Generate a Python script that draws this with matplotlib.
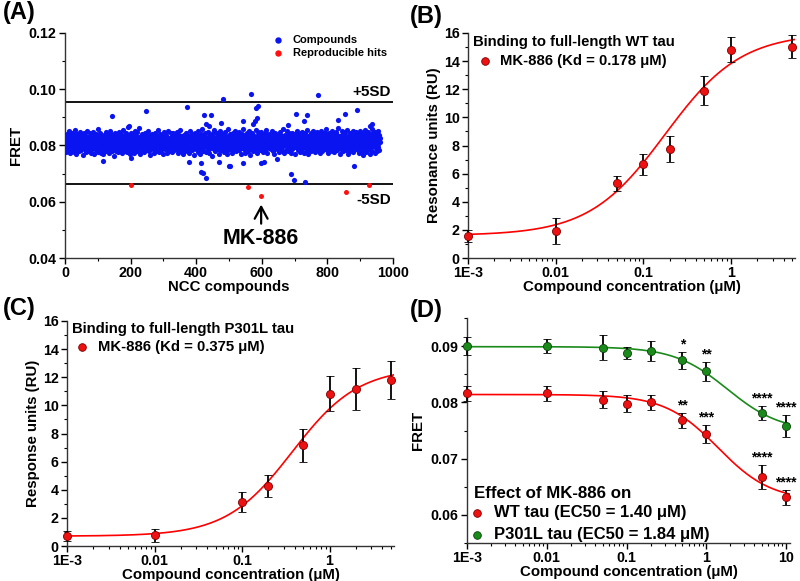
import numpy as np
import matplotlib
matplotlib.use("Agg")
import matplotlib.pyplot as plt
from matplotlib.ticker import FixedLocator, FixedFormatter, MultipleLocator

plt.rcParams['font.family'] = ['Liberation Sans', 'DejaVu Sans']
plt.rcParams['font.weight'] = 'bold'
plt.rcParams['axes.labelweight'] = 'bold'

# ---------------- (A) screening data ----------------
# FRET x 1e4 for compounds 1..960 (bulk of the screen)
bulk_fret = [
    812, 795, 831, 778, 806, 842, 799, 817, 784, 826, 803, 851, 790, 809, 772, 835, 814, 797, 822, 781, 808, 846, 793, 819,
    801, 836, 776, 813, 829, 788, 805, 855, 796, 818, 770, 823, 807, 840, 785, 811, 798, 833, 779, 816, 802, 848, 791, 824,
    809, 783, 838, 800, 815, 766, 827, 804, 792, 844, 810, 787, 821, 799, 834, 776, 813, 806, 852, 795, 818, 780, 830, 803,
    789, 825, 811, 843, 797, 774, 816, 805, 837, 786, 820, 808, 794, 849, 802, 828, 771, 812, 799, 835, 783, 817, 806, 841,
    793, 814, 830, 778, 807, 857, 800, 822, 788, 811, 845, 796, 819, 775, 832, 804, 790, 826, 809, 768, 815, 801, 839, 784,
    821, 806, 796, 847, 812, 781, 829, 803, 816, 792, 836, 808, 773, 824, 799, 853, 810, 787, 818, 805, 842, 794, 827, 779,
    804, 833, 819, 790, 811, 764, 826, 801, 845, 797, 814, 782, 838, 807, 793, 822, 815, 776, 831, 800, 849, 789, 812, 825,
    798, 841, 785, 817, 806, 829, 772, 813, 802, 856, 794, 820, 809, 780, 834, 803, 818, 791, 846, 807, 777, 823, 811, 796,
    816, 787, 832, 804, 769, 821, 810, 843, 799, 826, 783, 812, 805, 839, 792, 817, 774, 828, 801, 851, 808, 786, 819, 835,
    802, 824, 779, 813, 848, 795, 810, 831, 788, 806, 861, 797, 820, 771, 834, 809, 800, 842, 784, 815, 826, 793, 807, 838,
    811, 776, 827, 803, 844, 790, 818, 805, 834, 785, 813, 799, 850, 808, 781, 823, 796, 837, 812, 767, 829, 804, 816, 792,
    840, 801, 819, 787, 830, 810, 775, 825, 798, 845, 806, 814, 782, 836, 803, 821, 794, 808, 854, 789, 817, 800, 832, 778,
    813, 797, 841, 806, 822, 784, 809, 835, 792, 818, 770, 827, 804, 848, 799, 815, 786, 831, 810, 795, 839, 807, 773, 824,
    800, 853, 789, 816, 805, 828, 780, 812, 796, 843, 809, 821, 777, 833, 802, 818, 791, 846, 807, 784, 824, 798, 837, 811,
    786, 820, 808, 847, 794, 813, 830, 772, 817, 803, 839, 790, 826, 811, 799, 855, 805, 781, 822, 814, 795, 834, 808, 769,
    823, 806, 791, 838, 812, 779, 829, 801, 816, 845, 797, 810, 785, 832, 804, 819, 773, 827, 809, 850, 793, 815, 802, 836,
    798, 824, 812, 783, 840, 806, 817, 792, 831, 765, 821, 803, 846, 788, 814, 809, 835, 796, 826, 778, 811, 852, 800, 819,
    787, 833, 805, 815, 771, 842, 810, 797, 828, 804, 858, 791, 818, 782, 836, 808, 823, 799, 812, 844, 776, 829, 806, 794,
    821, 803, 849, 785, 813, 830, 807, 774, 839, 800, 817, 792, 827, 811, 763, 834, 805, 845, 796, 820, 789, 814, 856, 802,
    816, 781, 831, 808, 797, 843, 812, 825, 786, 809, 837, 799, 819, 770, 828, 804, 851, 793, 813, 840, 784, 822, 807, 833,
    795, 818, 838, 803, 777, 826, 811, 847, 790, 815, 806, 832, 768, 821, 800, 857, 809, 785, 829, 814, 796, 841, 803, 823,
    812, 789, 835, 806, 820, 773, 844, 799, 817, 828, 784, 810, 853, 795, 824, 807, 838, 780, 816, 801, 846, 792, 830, 809,
    783, 827, 814, 848, 797, 808, 836, 771, 819, 804, 841, 790, 825, 812, 799, 860, 806, 786, 831, 815, 775, 837, 801, 821,
    808, 843, 793, 818, 830, 782, 811, 852, 798, 823, 806, 767, 834, 813, 789, 827, 804, 845, 796, 817, 838, 779, 820, 810,
    802, 787, 829, 816, 854, 794, 809, 835, 774, 822, 805, 847, 791, 814, 826, 800, 840, 783, 818, 811, 832, 797, 849, 806,
    825, 799, 813, 778, 839, 807, 820, 792, 844, 810, 785, 828, 803, 856, 796, 816, 772, 833, 808, 821, 790, 842, 813, 800,
    817, 834, 788, 811, 799, 850, 805, 826, 781, 819, 838, 794, 812, 770, 829, 806, 845, 798, 823, 809, 786, 836, 815, 803,
    792, 821, 842, 807, 776, 831, 814, 800, 847, 789, 818, 806, 835, 782, 824, 811, 859, 797, 813, 828, 775, 839, 804, 816,
    809, 785, 827, 812, 851, 798, 820, 834, 780, 815, 803, 843, 791, 826, 807, 772, 832, 814, 800, 846, 787, 822, 810, 837,
    801, 818, 793, 840, 808, 769, 828, 812, 796, 853, 804, 821, 783, 835, 809, 817, 790, 844, 806, 824, 777, 831, 815, 799,
    823, 806, 848, 788, 814, 830, 801, 775, 839, 811, 797, 826, 845, 792, 819, 808, 856, 784, 813, 833, 802, 770, 828, 816,
    795, 837, 810, 822, 781, 846, 804, 817, 790, 831, 812, 799, 852, 786, 825, 807, 840, 778, 818, 803, 834, 794, 849, 811,
    829, 784, 815, 803, 842, 797, 820, 836, 772, 813, 808, 851, 791, 827, 816, 779, 838, 805, 823, 798, 845, 810, 787, 832,
    806, 819, 857, 793, 811, 828, 785, 840, 802, 817, 774, 834, 809, 846, 796, 822, 814, 789, 831, 805, 853, 781, 826, 812,
    798, 843, 807, 821, 776, 836, 813, 792, 848, 804, 825, 810, 783, 839, 801, 818, 862, 795, 829, 808, 771, 833, 815, 800,
    824, 788, 837, 812, 850, 799, 816, 830, 779, 841, 806, 822, 794, 847, 810, 785, 834, 803, 819, 855, 791, 827, 813, 768,
    809, 832, 797, 844, 815, 782, 828, 805, 838, 790, 820, 811, 853, 776, 826, 802, 841, 817, 796, 833, 807, 787, 849, 814,
    800, 823, 846, 784, 818, 809, 835, 773, 829, 812, 851, 795, 821, 804, 839, 781, 816, 844, 799, 825, 810, 766, 836, 803,
    817, 791, 830, 854, 806, 822, 778, 842, 813, 797, 834, 808, 848, 786, 826, 815, 770, 840, 801, 831, 819, 793, 857, 807,
    782, 828, 811, 845, 798, 837, 816, 775, 849, 804, 823, 790, 843, 812, 779, 832, 806, 852, 796, 821, 838, 785, 827, 813,
]

# compounds that fall outside the main band (index, FRET)
outlier_idx = [483, 144, 247, 371, 424, 446, 430, 438, 477, 193, 196, 379, 416, 414, 422, 430,
               470, 500, 115, 200, 567, 772, 581, 587, 584, 580, 574, 544, 704, 728, 739, 854,
               889, 833, 681, 503, 542, 598, 608, 645, 689, 698, 732, 882, 935, 930]
outlier_fret = [0.0965, 0.0906, 0.0923, 0.0937, 0.0908, 0.0908, 0.0875, 0.0870, 0.0880, 0.0867,
                0.0869, 0.0741, 0.0739, 0.0705, 0.0701, 0.0683, 0.0741, 0.0727, 0.0745, 0.0757,
                0.0982, 0.0980, 0.0934, 0.0941, 0.0897, 0.0887, 0.0878, 0.0887, 0.0913, 0.0888,
                0.0908, 0.0911, 0.0927, 0.0892, 0.0873, 0.0726, 0.0737, 0.0739, 0.0741, 0.0752,
                0.0698, 0.0676, 0.0670, 0.0727, 0.0875, 0.0870]

hit_idx = [201, 559, 598, 857, 927]
hit_fret = [0.0658, 0.0654, 0.0622, 0.0635, 0.0658]

plus_5sd = 0.0955
minus_5sd = 0.0664

# ---------------- (B) SPR WT tau ----------------
conc_b = [0.001, 0.01, 0.05, 0.1, 0.2, 0.5, 1, 5]
ru_b = [1.57, 1.90, 5.30, 6.65, 7.74, 11.90, 14.82, 15.03]
err_b = [0.40, 0.93, 0.55, 0.75, 0.93, 1.03, 0.90, 0.83]
fit_b = dict(bottom=1.6, top=16.0, k=0.178, n=1.0)

# ---------------- (C) SPR P301L tau ----------------
conc_c = [0.001, 0.01, 0.1, 0.2, 0.5, 1, 2, 5]
ru_c = [0.73, 0.78, 3.12, 4.26, 7.15, 10.84, 11.17, 11.79]
err_c = [0.36, 0.46, 0.72, 0.80, 1.15, 1.25, 1.50, 1.37]
fit_c = dict(bottom=0.7, top=12.7, k=0.375, n=1.15)

# ---------------- (D) FRET dose response ----------------
conc_d = [0.001, 0.01, 0.05, 0.1, 0.2, 0.5, 1, 5, 10]
fret_wt = [0.0816, 0.0816, 0.0805, 0.0798, 0.0800, 0.0768, 0.0744, 0.0667, 0.0631]
err_wt = [0.0014, 0.0013, 0.0015, 0.0015, 0.0014, 0.0013, 0.0016, 0.0021, 0.0013]
fret_p301l = [0.0901, 0.0900, 0.0897, 0.0888, 0.0891, 0.0875, 0.0855, 0.0781, 0.0758]
err_p301l = [0.0016, 0.0012, 0.0022, 0.0011, 0.0018, 0.0015, 0.0017, 0.0013, 0.0020]
stars_wt = ['', '', '', '', '', '**', '***', '****', '****']
stars_p301l = ['', '', '', '', '', '*', '**', '****', '****']
fit_wt = dict(top=0.0814, bottom=0.0625, ec50=1.40, n=1.3)
fit_p301l = dict(top=0.0899, bottom=0.0748, ec50=1.84, n=1.3)


def hill_up(x, bottom, top, k, n):
    return bottom + (top - bottom) / (1 + (k / x) ** n)


def hill_down(x, top, bottom, ec50, n):
    return bottom + (top - bottom) / (1 + (x / ec50) ** n)


def style_axis(ax):
    for s in ['top', 'right']:
        ax.spines[s].set_visible(False)
    for s in ['left', 'bottom']:
        ax.spines[s].set_linewidth(1.0)
        ax.spines[s].set_color('#333333')
    ax.tick_params(which='major', direction='out', length=4, width=1, labelsize=10.3, pad=2)
    ax.tick_params(which='minor', direction='out', length=2.2, width=0.8)


def log_axis(ax, xmax, labels):
    ax.set_xscale('log')
    ax.set_xlim(1e-3, xmax)
    ticks = [10.0 ** p for p in range(-3, 3) if 10.0 ** p <= xmax]
    ax.xaxis.set_major_locator(FixedLocator(ticks))
    ax.xaxis.set_major_formatter(FixedFormatter(labels[:len(ticks)]))
    minors = [m * 10.0 ** p for p in range(-3, 2) for m in range(2, 10) if m * 10.0 ** p <= xmax]
    ax.xaxis.set_minor_locator(FixedLocator(minors))
    ax.xaxis.set_minor_formatter(FixedFormatter([''] * len(minors)))


def key_marker(ax, x, y, color, edge, text, tx, size):
    ax.plot([x], [y], 'o', ms=5.5, mfc=color, mec=edge, mew=0.6,
            transform=ax.transAxes, clip_on=False)
    ax.text(tx, y, text, transform=ax.transAxes, va='center', ha='left', fontsize=size)


log_labels = ['1E-3', '0.01', '0.1', '1', '10', '100']
W, H = 800, 581
fig = plt.figure(figsize=(8, 5.81), dpi=100)


def add_axes(l, t, r, b):
    return fig.add_axes([l / W, 1 - b / H, (r - l) / W, (b - t) / H])


# ---------- panel A ----------
axA = add_axes(65, 33, 393, 258)
style_axis(axA)
xs = np.arange(1, len(bulk_fret) + 1)
axA.scatter(xs, np.array(bulk_fret) / 1e4, s=14, c='#0a14f0', linewidths=0, zorder=3)
axA.scatter(outlier_idx, outlier_fret, s=14, c='#0a14f0', linewidths=0, zorder=3)
axA.scatter(hit_idx, hit_fret, s=13, c='#ff1010', linewidths=0, zorder=3)
axA.axhline(plus_5sd, color='black', lw=1.3, zorder=2)
axA.axhline(minus_5sd, color='black', lw=1.3, zorder=2)
axA.text(995, plus_5sd + 0.0012, '+5SD', ha='right', va='bottom', fontsize=11)
axA.text(995, 0.0606, '-5SD', ha='right', va='center', fontsize=11)
axA.annotate('MK-886', xy=(598, 0.0590), xytext=(598, 0.0470), ha='center', va='center',
             fontsize=15.5, arrowprops=dict(arrowstyle='->,head_width=0.3,head_length=0.55',
                                            lw=1.6, color='black', shrinkA=1, shrinkB=0))
axA.set_xlim(0, 1000)
axA.set_ylim(0.04, 0.12)
axA.xaxis.set_major_locator(MultipleLocator(200))
axA.xaxis.set_minor_locator(MultipleLocator(100))
axA.yaxis.set_major_locator(MultipleLocator(0.02))
axA.yaxis.set_minor_locator(MultipleLocator(0.01))
axA.yaxis.set_major_formatter(plt.FuncFormatter(lambda v, p: f'{v:.2f}'))
axA.set_xlabel('NCC compounds', fontsize=10.8, labelpad=0)
axA.set_ylabel('FRET', fontsize=10.8, labelpad=4)
axA.plot([0.649], [0.969], 'o', ms=3.6, color='#0a14f0', transform=axA.transAxes)
axA.text(0.695, 0.969, 'Compounds', transform=axA.transAxes, va='center', fontsize=8)
axA.plot([0.649], [0.910], 'o', ms=3.6, color='#ff1010', transform=axA.transAxes)
axA.text(0.695, 0.910, 'Reproducible hits', transform=axA.transAxes, va='center', fontsize=8)

# ---------- panel B ----------
axB = add_axes(468, 33, 795, 258)
style_axis(axB)
xx = np.logspace(-3, np.log10(5.4), 300)
axB.plot(xx, hill_up(xx, **fit_b), color='#ff0000', lw=1.2, zorder=2)
axB.errorbar(conc_b, ru_b, yerr=err_b, fmt='o', ms=5.8, mfc='#ee1111', mec='#7a0000', mew=0.6,
             ecolor='black', elinewidth=1.3, capsize=3.2, capthick=1.3, zorder=3, clip_on=False)
log_axis(axB, 5.4, log_labels)
axB.set_ylim(0, 16)
axB.yaxis.set_major_locator(MultipleLocator(2))
axB.yaxis.set_minor_locator(MultipleLocator(1))
axB.set_xlabel('Compound concentration (\u03bcM)', fontsize=10.8, labelpad=0)
axB.set_ylabel('Resonance units (RU)', fontsize=10.8, labelpad=2)
axB.text(0.015, 0.96, 'Binding to full-length WT tau', transform=axB.transAxes,
         va='center', ha='left', fontsize=10.7)
key_marker(axB, 0.052, 0.876, '#ee1111', '#7a0000', 'MK-886 (Kd = 0.178 \u03bcM)', 0.098, 10.7)

# ---------- panel C ----------
axC = add_axes(67, 321, 394, 546)
style_axis(axC)
xx = np.logspace(-3, np.log10(5.45), 300)
axC.plot(xx, hill_up(xx, **fit_c), color='#ff0000', lw=1.2, zorder=2)
axC.errorbar(conc_c, ru_c, yerr=err_c, fmt='o', ms=5.8, mfc='#ee1111', mec='#7a0000', mew=0.6,
             ecolor='black', elinewidth=1.3, capsize=3.2, capthick=1.3, zorder=3, clip_on=False)
log_axis(axC, 5.45, log_labels)
axC.set_ylim(0, 16)
axC.yaxis.set_major_locator(MultipleLocator(2))
axC.yaxis.set_minor_locator(MultipleLocator(1))
axC.set_xlabel('Compound concentration (\u03bcM)', fontsize=10.8, labelpad=0)
axC.set_ylabel('Response units (RU)', fontsize=10.8, labelpad=2)
axC.text(0.016, 0.963, 'Binding to full-length P301L tau', transform=axC.transAxes,
         va='center', ha='left', fontsize=10.7)
key_marker(axC, 0.047, 0.884, '#ee1111', '#7a0000', 'MK-886 (Kd = 0.375 \u03bcM)', 0.096, 10.7)

# ---------- panel D ----------
axD = add_axes(467, 318, 790, 543)
style_axis(axD)
xx = np.logspace(-3, np.log10(11.2), 300)
axD.plot(xx, hill_down(xx, **fit_p301l), color='#1a8a1a', lw=1.2, zorder=2)
axD.plot(xx, hill_down(xx, **fit_wt), color='#ff0000', lw=1.2, zorder=2)
axD.errorbar(conc_d, fret_p301l, yerr=err_p301l, fmt='o', ms=5.8, mfc='#1a8a1a', mec='#0a400a',
             mew=0.6, ecolor='black', elinewidth=1.3, capsize=3.2, capthick=1.3, zorder=3, clip_on=False)
axD.errorbar(conc_d, fret_wt, yerr=err_wt, fmt='o', ms=5.8, mfc='#ee1111', mec='#7a0000',
             mew=0.6, ecolor='black', elinewidth=1.3, capsize=3.2, capthick=1.3, zorder=3, clip_on=False)
for c, v, e, s in zip(conc_d, fret_p301l, err_p301l, stars_p301l):
    if s:
        axD.text(c, v + e + 0.0001, s, ha='center', va='bottom', fontsize=10, clip_on=False)
for c, v, e, s in zip(conc_d, fret_wt, err_wt, stars_wt):
    if s:
        axD.text(c, v + e + 0.0001, s, ha='center', va='bottom', fontsize=10, clip_on=False)
log_axis(axD, 11.2, log_labels)
axD.set_ylim(0.055, 0.095)
axD.yaxis.set_major_locator(FixedLocator([0.06, 0.07, 0.08, 0.09]))
axD.yaxis.set_minor_locator(FixedLocator([0.055, 0.065, 0.075, 0.085, 0.095]))
axD.yaxis.set_major_formatter(plt.FuncFormatter(lambda v, p: f'{v:.2f}'))
axD.set_xlabel('Compound concentration (\u03bcM)', fontsize=10.8, labelpad=0)
axD.set_ylabel('FRET', fontsize=10.8, labelpad=4)
axD.text(0.021, 0.218, 'Effect of MK-886 on', transform=axD.transAxes,
         va='center', ha='left', fontsize=12.2)
key_marker(axD, 0.031, 0.135, '#ee1111', '#7a0000', 'WT tau (EC50 = 1.40 \u03bcM)', 0.083, 12)
key_marker(axD, 0.031, 0.036, '#1a8a1a', '#0a400a', 'P301L tau (EC50 = 1.84 \u03bcM)', 0.083, 12)

# panel letters
for lab, px, py in [('(A)', 19, 12), ('(B)', 426, 16), ('(C)', 19, 309), ('(D)', 426, 311)]:
    fig.text(px / W, 1 - py / H, lab, ha='center', va='center', fontsize=17)

fig.savefig('out.png', dpi=100)
